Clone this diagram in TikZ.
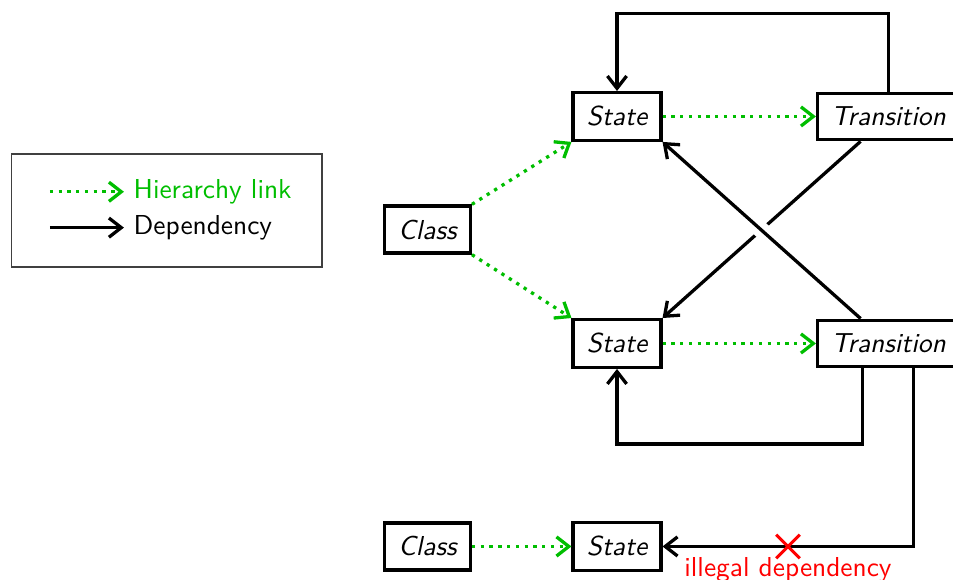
\documentclass[tikz,border=0pt]{standalone}
\usepackage{tikz}
\usetikzlibrary{arrows.meta,positioning,calc,shapes.misc}
\definecolor{hiergreen}{RGB}{0,190,0}
\definecolor{illegalred}{RGB}{255,0,0}

\begin{document}
\begin{tikzpicture}[
    font=\sffamily,
    statebox/.style={rectangle, draw=black, line width=1.2pt, inner sep=5pt, font=\sffamily\itshape},
    hier/.style={-{Straight Barb[length=4.5pt,width=7pt]}, hiergreen, dotted, line width=1.2pt},
    dep/.style={-{Straight Barb[length=4.5pt,width=7pt]}, black, line width=1.2pt},
    crossmark/.style={cross out, draw=illegalred, line width=1.1pt, minimum size=7.5pt, inner sep=0pt}
]
\useasboundingbox (0,0) rectangle (12.225,7.44);

\node[statebox] (s1) at (7.915,5.946) {State};
\node[statebox] (t1) at (11.398,5.946) {Transition};
\node[statebox] (c1) at (5.484,4.496) {Class};
\node[statebox] (s2) at (7.915,3.034) {State};
\node[statebox] (t2) at (11.398,3.034) {Transition};
\node[statebox] (c3) at (5.484,0.430) {Class};
\node[statebox] (s3) at (7.915,0.430) {State};

% legend
\node[draw=black!75, line width=0.5pt, minimum width=3.98cm, minimum height=1.45cm] (legend) at (2.14,4.74) {};
\coordinate (lh1) at (0.64,4.98);
\coordinate (lh2) at (1.59,4.98);
\coordinate (ld1) at (0.64,4.52);
\coordinate (ld2) at (1.59,4.52);
\draw[hier] (lh1) -- (lh2);
\node[anchor=west, text=hiergreen] (lhtext) at (lh2) {Hierarchy link};
\draw[dep] (ld1) -- (ld2);
\node[anchor=west] (ldtext) at (ld2) {Dependency};

% hierarchy links
\draw[hier] (c1.north east) -- (s1.south west);
\draw[hier] (c1.south east) -- (s2.north west);
\draw[hier] (s1) -- (t1);
\draw[hier] (s2) -- (t2);
\draw[hier] (c3) -- (s3);

% dependencies
\draw[dep] (t1.north) -- ++(0,1.0) -| (s1.north);
\draw[dep] (t1) -- (s2.north east);
\draw[dep, preaction={draw=white, -, solid, line width=6pt, shorten <=8pt, shorten >=8pt}] (t2) -- (s1.south east);
\draw[dep] ([xshift=-0.33cm]t2.south) -- ++(0,-0.97) -| (s2.south);
\draw[dep] ([xshift=0.32cm]t2.south) |- (s3.east)
    node[pos=0.75, crossmark] (illegal) {}
    node[pos=0.75, below, text=illegalred] (illegaltext) {illegal dependency};
\end{tikzpicture}
\end{document}
